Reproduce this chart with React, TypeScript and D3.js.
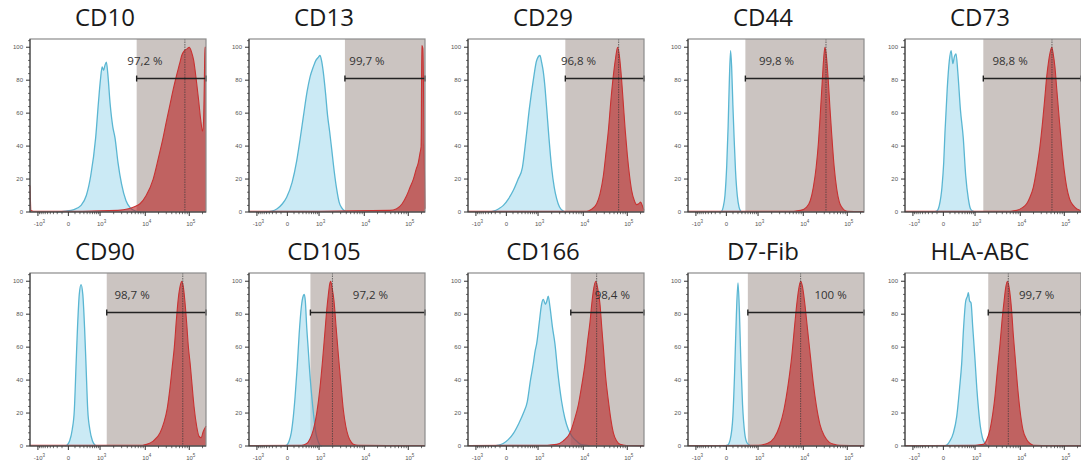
import React from "react";
import * as d3 from "d3";

type Pt = [number, number];

// Panels in reading order (row 1, then row 2)
const markers = ["CD10", "CD13", "CD29", "CD44", "CD73", "CD90", "CD105", "CD166", "D7-Fib", "HLA-ABC"];
const positivePct = ["97,2 %", "99,7 %", "96,8 %", "99,8 %", "98,8 %", "98,7 %", "97,2 %", "98,4 %", "100 %", "99,7 %"];

// gate start, median of stained sample and label anchor, in display channels (0-1000)
const gateStart = [606, 545, 553, 326, 445, 436, 349, 584, 340, 473];
const medianChannel: (number | null)[] = [880, null, 856, 784, 835, 868, 474, 731, 640, 587];
const labelChannel = [653, 670, 628, 503, 597, 580, 690, 820, 810, 748];

// logicle axis decades, as display channels
const xTickChannel = [45, 218, 398, 655, 905];
const xTickBase = ["-10", "0", "10", "10", "10"];
const xTickExp = ["3", "", "3", "4", "5"];
const yTicks = [0, 20, 40, 60, 80, 100];

// isotype control (blue) and stained sample (red): [channel, % of max]
const cd10Iso: Pt[] = [[150, 0], [200, 0.5], [250, 1.5], [290, 4], [320, 10], [345, 22], [373, 45], [390, 68], [400, 80], [410, 88], [418, 86], [426, 89], [434, 91], [442, 84], [455, 66], [470, 52], [483, 45], [500, 30], [520, 17], [545, 7], [570, 2.5], [600, 0.5], [630, 0]];
const cd10Pos: Pt[] = [[0, 16], [6, 1], [20, 0.5], [300, 0.5], [500, 1], [560, 2], [600, 3.5], [625, 5], [660, 10], [700, 20], [730, 33], [756, 45], [775, 55], [795, 65], [815, 75], [833, 83], [850, 90], [862, 95], [878, 98], [892, 99], [905, 100], [918, 97], [930, 92], [945, 80], [958, 68], [970, 56], [980, 49], [986, 55], [990, 75], [994, 100], [1000, 100]];

const cd13Iso: Pt[] = [[90, 0], [130, 0.5], [160, 2], [190, 5], [214, 9], [245, 18], [271, 31], [290, 44], [309, 58], [330, 73], [347, 82], [365, 88], [380, 92], [395, 94], [403, 95], [412, 92], [422, 85], [435, 72], [447, 58], [458, 49], [470, 38], [485, 24], [498, 14], [512, 6], [527, 2.5], [545, 0.5], [560, 0]];
const cd13Pos: Pt[] = [[0, 0.5], [400, 0.5], [800, 1], [839, 2], [870, 5], [896, 10], [915, 15], [934, 20], [950, 26], [962, 30], [972, 36], [978, 40], [982, 101], [988, 99], [995, 40], [1000, 2]];

const cd29Iso: Pt[] = [[120, 0], [144, 0.5], [175, 2], [201, 4], [230, 8], [257, 13], [285, 20], [309, 27], [330, 45], [349, 63], [360, 72], [371, 80], [390, 92], [409, 95], [418, 91], [428, 85], [438, 75], [447, 63], [460, 45], [475, 27], [490, 15], [504, 8], [520, 3], [542, 0.5], [560, 0]];
const cd29Pos: Pt[] = [[0, 0.4], [600, 0.4], [674, 0.5], [700, 1.5], [731, 5], [750, 11], [769, 22], [785, 37], [798, 50], [812, 68], [825, 82], [838, 93], [850, 100], [860, 95], [873, 80], [883, 65], [893, 50], [905, 35], [918, 22], [930, 13], [945, 7], [958, 4.5], [970, 5], [981, 6], [990, 4], [1000, 1]];

const cd44Iso: Pt[] = [[180, 0], [191, 0.5], [200, 3], [210, 10], [220, 28], [228, 52], [235, 80], [242, 98], [248, 88], [255, 65], [262, 45], [270, 25], [280, 10], [290, 3], [300, 0.5], [310, 0]];
const cd44Pos: Pt[] = [[0, 0.5], [600, 0.5], [640, 1], [674, 3], [695, 7], [712, 15], [728, 27], [741, 42], [752, 60], [762, 78], [770, 92], [778, 100], [786, 95], [797, 80], [806, 64], [816, 48], [830, 28], [845, 14], [860, 6], [873, 3], [890, 1], [905, 0.5], [1000, 0.3]];

const cd73Iso: Pt[] = [[160, 0], [180, 0.5], [195, 4], [210, 15], [220, 30], [227, 48], [240, 75], [252, 92], [262, 98], [272, 90], [280, 94], [290, 96], [300, 85], [315, 62], [331, 45], [345, 22], [360, 8], [372, 2], [385, 0.5], [400, 0]];
const cd73Pos: Pt[] = [[0, 0.4], [600, 0.5], [635, 1], [665, 2.5], [691, 5], [710, 9], [729, 15], [748, 26], [767, 40], [782, 55], [795, 70], [805, 82], [814, 90], [825, 97], [834, 100], [842, 96], [852, 88], [862, 75], [876, 57], [890, 40], [905, 25], [919, 15], [935, 8], [956, 4], [975, 2], [994, 1], [1000, 0.5]];

const cd90Iso: Pt[] = [[200, 0], [210, 0.5], [225, 3], [240, 10], [252, 22], [262, 50], [270, 72], [280, 92], [290, 98], [300, 92], [310, 72], [318, 50], [328, 22], [340, 10], [355, 3], [370, 0.5], [380, 0]];
const cd90Pos: Pt[] = [[0, 0.5], [640, 0.5], [663, 1], [700, 3], [739, 8], [760, 14], [780, 23], [795, 35], [808, 48], [820, 60], [832, 77], [843, 90], [855, 98], [862, 100], [872, 96], [880, 88], [890, 75], [900, 60], [910, 50], [920, 38], [932, 24], [947, 12], [960, 6], [972, 5], [985, 9], [1000, 12]];

const cd105Iso: Pt[] = [[200, 0], [215, 0.5], [228, 3], [240, 8], [252, 18], [262, 30], [274, 48], [285, 68], [298, 85], [308, 91], [314, 92], [320, 88], [328, 72], [337, 58], [343, 48], [355, 32], [368, 18], [380, 8], [392, 3], [403, 0.5], [415, 0]];
const cd105Pos: Pt[] = [[0, 0.3], [300, 0.5], [328, 1.5], [345, 4], [366, 10], [385, 20], [403, 35], [418, 52], [432, 70], [443, 84], [451, 92], [458, 98], [464, 100], [472, 96], [483, 88], [495, 72], [508, 55], [522, 38], [536, 22], [550, 12], [564, 6], [580, 2.5], [593, 1], [620, 0.4], [1000, 0.3]];

const cd166Iso: Pt[] = [[140, 0], [172, 0.5], [200, 1.5], [230, 4], [260, 8], [290, 14], [315, 20], [337, 27], [355, 40], [371, 50], [382, 58], [390, 62], [405, 75], [418, 86], [428, 89], [440, 86], [448, 88], [456, 91], [465, 85], [480, 72], [494, 62], [510, 45], [532, 27], [550, 17], [570, 10], [590, 6], [617, 3], [640, 1], [670, 0.5], [690, 0]];
const cd166Pos: Pt[] = [[0, 0.3], [450, 0.5], [504, 1], [540, 3], [580, 8], [605, 16], [627, 25], [645, 36], [665, 50], [680, 64], [693, 75], [703, 86], [712, 94], [726, 100], [738, 95], [750, 86], [760, 72], [769, 60], [782, 42], [797, 28], [812, 16], [826, 8], [845, 3], [864, 1], [900, 0.3], [1000, 0.2]];

const d7Iso: Pt[] = [[200, 0], [225, 0.5], [240, 4], [255, 18], [265, 45], [275, 80], [284, 99], [292, 82], [300, 52], [310, 25], [322, 8], [335, 2], [350, 0.5], [360, 0]];
const d7Pos: Pt[] = [[0, 0.3], [400, 0.5], [450, 1.5], [490, 5], [520, 12], [545, 22], [570, 38], [590, 55], [605, 72], [620, 88], [632, 97], [640, 100], [650, 97], [662, 88], [678, 72], [695, 55], [712, 38], [730, 24], [750, 13], [775, 6], [800, 2.5], [830, 1], [860, 0.4], [1000, 0.2]];

const hlaIso: Pt[] = [[220, 0], [237, 0.5], [255, 3], [275, 8], [294, 18], [310, 35], [322, 50], [333, 72], [345, 88], [355, 91], [360, 93], [367, 88], [375, 87], [385, 72], [398, 52], [408, 35], [418, 22], [428, 12], [440, 5], [455, 1.5], [470, 0.3], [480, 0]];
const hlaPos: Pt[] = [[0, 0.3], [400, 0.5], [445, 1], [465, 4], [483, 10], [498, 19], [511, 30], [525, 46], [540, 62], [552, 77], [563, 88], [572, 96], [582, 100], [592, 96], [606, 82], [615, 68], [625, 55], [638, 38], [653, 22], [670, 10], [691, 4], [710, 1.5], [729, 0.5], [1000, 0.2]];

const isoCurves = [cd10Iso, cd13Iso, cd29Iso, cd44Iso, cd73Iso, cd90Iso, cd105Iso, cd166Iso, d7Iso, hlaIso];
const posCurves = [cd10Pos, cd13Pos, cd29Pos, cd44Pos, cd73Pos, cd90Pos, cd105Pos, cd166Pos, d7Pos, hlaPos];

// layout
const W = 1081;
const H = 467;
const colLeft = [30, 249, 468, 688, 905];
const rowTop = [39, 273];
const plotW = 176;
const plotH = 173;

// minor ticks of the logicle axis
const minorX: number[] = [];
for (let k = 2; k < 10; k++) {
  minorX.push(xTickChannel[2] + (xTickChannel[3] - xTickChannel[2]) * Math.log10(k));
  minorX.push(xTickChannel[3] + (xTickChannel[4] - xTickChannel[3]) * Math.log10(k));
}
minorX.push(xTickChannel[4] + (xTickChannel[4] - xTickChannel[3]) * Math.log10(2));
for (let k = 1; k < 10; k++) {
  const r = Math.log1p((k * 100) / 250) / Math.log1p(4);
  minorX.push(xTickChannel[1] + (xTickChannel[2] - xTickChannel[1]) * r);
  minorX.push(xTickChannel[1] - (xTickChannel[1] - xTickChannel[0]) * r);
}
const minorY = d3.range(0, 105, 4).filter((v) => v % 20 !== 0);

const Panel = ({ i }: { i: number }) => {
  const L = colLeft[i % 5];
  const T = rowTop[Math.floor(i / 5)];
  const B = T + plotH;
  const x = d3.scaleLinear().domain([0, 1000]).range([L, L + plotW]);
  const y = d3.scaleLinear().domain([0, 105]).range([B, T]);

  const area = d3.area<Pt>().x((d) => x(d[0])).y0(y(0)).y1((d) => y(d[1])).curve(d3.curveMonotoneX);
  const line = d3.line<Pt>().x((d) => x(d[0])).y((d) => y(d[1])).curve(d3.curveMonotoneX);

  const med = medianChannel[i];
  const gx = x(gateStart[i]);
  const barY = y(81);

  return (
    <g>
      <text x={L + 75} y={T - 13} textAnchor="middle" fontFamily="'Open Sans', sans-serif" fontSize={24} fill="#1a1a1a">
        {markers[i]}
      </text>
      <rect x={L} y={T} width={plotW} height={plotH} fill="#fff" />
      <rect x={gx} y={T} width={L + plotW - gx} height={plotH} fill="#cbc4c1" />

      <path d={area(isoCurves[i]) || ""} fill="#a9dcef" fillOpacity={0.6} />
      <path d={line(isoCurves[i]) || ""} fill="none" stroke="#5ab6d2" strokeWidth={1.3} />
      <path d={area(posCurves[i]) || ""} fill="#b81c1c" fillOpacity={0.58} />
      <path d={line(posCurves[i]) || ""} fill="none" stroke="#c83232" strokeWidth={1.1} />

      {med !== null && (
        <line x1={x(med)} x2={x(med)} y1={T} y2={B} stroke="#3a3a3a" strokeWidth={0.7} strokeDasharray="1.5,1" />
      )}

      <line x1={gx} x2={L + plotW} y1={barY} y2={barY} stroke="#222" strokeWidth={1.4} />
      <line x1={gx} x2={gx} y1={barY - 3} y2={barY + 3} stroke="#222" strokeWidth={1.4} />
      <line x1={L + plotW} x2={L + plotW} y1={barY - 3} y2={barY + 3} stroke="#222" strokeWidth={1.4} />
      <text x={x(labelChannel[i])} y={y(89.5)} textAnchor="middle" fontFamily="'Open Sans', sans-serif" fontSize={11.5} fill="#333">
        {positivePct[i]}
      </text>

      <rect x={L} y={T} width={plotW} height={plotH} fill="none" stroke="#8c8c8c" strokeWidth={1.2} />
      <line x1={L} x2={L} y1={T} y2={B} stroke="#333" strokeWidth={1} />
      <line x1={L} x2={L + plotW} y1={B} y2={B} stroke="#333" strokeWidth={1} />

      {yTicks.map((v) => (
        <g key={"y" + v}>
          <line x1={L - 4} x2={L} y1={y(v)} y2={y(v)} stroke="#333" strokeWidth={1} />
          <text x={L - 7} y={y(v)} dy="0.35em" textAnchor="end" fontFamily="'Liberation Sans', Arial, sans-serif" fontSize={6} fill="#555">
            {v}
          </text>
        </g>
      ))}
      {minorY.map((v) => (
        <line key={"my" + v} x1={L - 2} x2={L} y1={y(v)} y2={y(v)} stroke="#333" strokeWidth={0.7} />
      ))}

      {xTickChannel.map((c, k) => (
        <g key={"x" + k}>
          <line x1={x(c)} x2={x(c)} y1={B} y2={B + 4} stroke="#333" strokeWidth={1} />
          <text x={x(c) + (xTickExp[k] ? 1.5 : 0)} y={B + 14} textAnchor="middle" fontFamily="'Liberation Sans', Arial, sans-serif" fontSize={6} fill="#555">
            {xTickBase[k]}
            {xTickExp[k] && (
              <tspan dy={-3} fontSize={4.5}>
                {xTickExp[k]}
              </tspan>
            )}
          </text>
        </g>
      ))}
      {minorX.map((c, k) => (
        <line key={"mx" + k} x1={x(c)} x2={x(c)} y1={B} y2={B + 2.2} stroke="#333" strokeWidth={0.7} />
      ))}
    </g>
  );
};

export default function App() {
  return (
    <svg width={W} height={H} style={{ position: "absolute", left: 0, top: 0, background: "#fff" }}>
      <rect width={W} height={H} fill="#fff" />
      {markers.map((m, i) => (
        <Panel key={m} i={i} />
      ))}
    </svg>
  );
}
